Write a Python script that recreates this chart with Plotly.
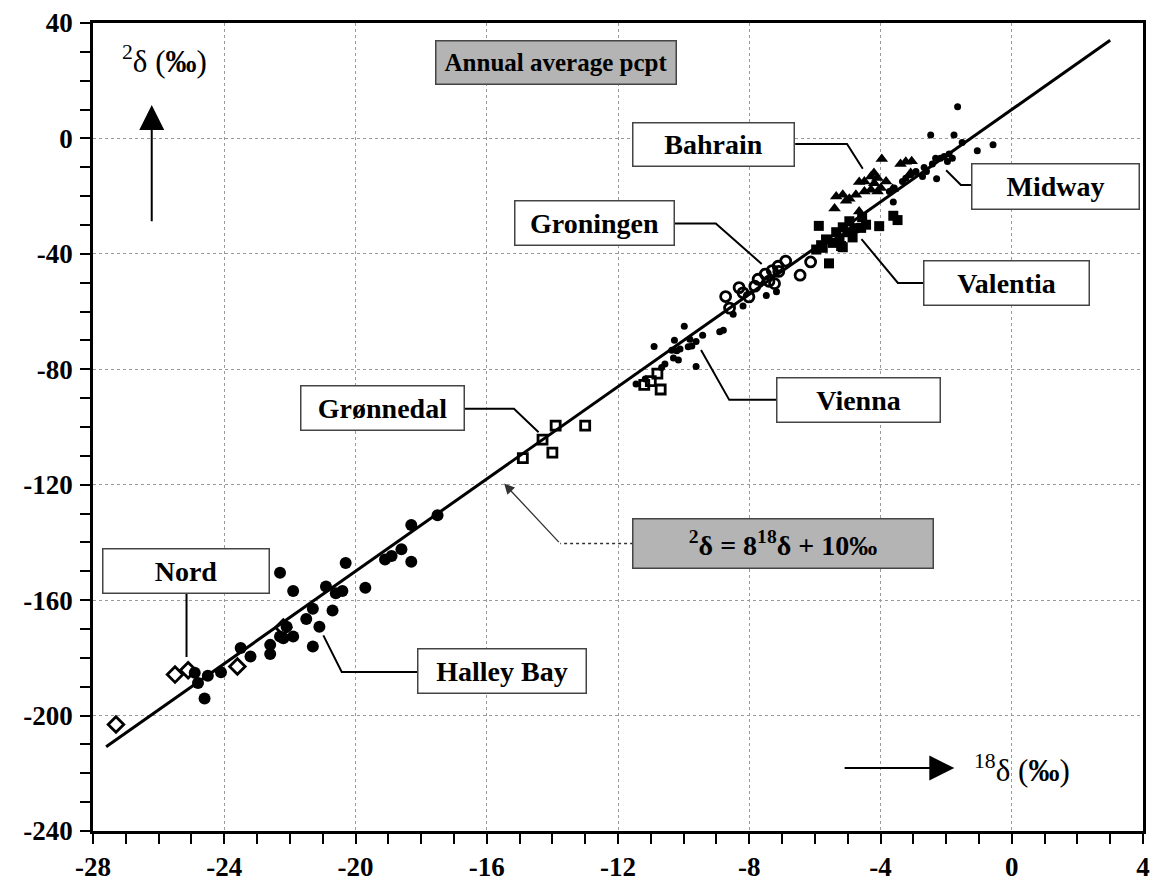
import plotly.graph_objects as go

# ---------------- data ----------------
halley_x = [-17.5, -18.3, -19.1, -18.9, -18.6, -18.3, -20.3, -22.3, -21.9, -20.9, -20.6, -20.4, -19.7,
            -21.3, -20.7, -21.5, -21.1, -22.1, -22.3, -21.9, -22.2, -21.3, -22.6, -22.6, -23.5, -23.2,
            -24.1, -24.5, -24.9, -24.8, -24.6]
halley_y = [-130.6, -134.0, -145.9, -144.7, -142.4, -146.7, -147.1, -150.5, -156.8, -155.3, -157.6, -156.8, -155.7,
            -163.0, -163.6, -166.5, -169.2, -169.2, -172.6, -172.6, -173.2, -176.1, -175.5, -178.7, -176.6, -179.5,
            -185.0, -186.2, -185.2, -188.7, -194.1]

nord_x = [-27.3, -25.5, -25.1, -23.6, -22.2]
nord_y = [-203.1, -185.8, -184.3, -183.0, -169.5]

gronnedal_x = [-14.3, -14.9, -13.9, -13.0, -14.0, -10.8, -11.0, -11.2, -10.7]
gronnedal_y = [-104.4, -110.8, -99.5, -99.5, -108.9, -81.5, -84.1, -85.4, -87.0]

vienna_x = [-11.45, -10.90, -10.28, -9.98, -10.36, -10.21, -10.11, -10.16, -10.31, -10.57, -10.67, -9.62,
            -9.81, -9.62, -9.42, -8.90, -8.79, -8.49, -8.19, -7.48, -7.17, -9.75, -11.17, -9.86]
vienna_y = [-85.1, -72.1, -69.9, -65.1, -73.4, -73.6, -73.0, -76.8, -76.1, -78.2, -79.4, -79.0,
            -69.6, -70.4, -68.2, -67.0, -66.5, -60.9, -58.1, -54.4, -53.1, -71.9, -83.4, -72.2]

groningen_x = [-8.72, -8.31, -8.60, -7.83, -7.73, -7.51, -7.30, -7.12, -6.89, -7.10, -7.23, -6.45,
               -6.13, -8.01, -8.19, -7.40]
groningen_y = [-54.8, -51.7, -58.8, -51.2, -48.8, -47.0, -45.8, -44.3, -42.5, -46.1, -50.3, -47.4,
               -42.8, -54.9, -53.5, -49.5]

valentia_x = [-5.88, -5.57, -4.04, -3.61, -3.48, -5.15, -4.85, -4.59, -4.56, -4.95, -5.15, -5.35,
              -5.66, -5.81, -5.96, -4.80, -5.01, -5.25, -5.45, -4.44, -5.20, -5.76]
valentia_y = [-30.3, -43.3, -30.4, -26.8, -28.3, -37.7, -34.3, -31.0, -27.3, -28.7, -30.8, -32.5,
              -35.0, -37.0, -38.5, -31.1, -32.5, -34.6, -36.2, -29.9, -37.3, -37.9]

bahrain_x = [-3.96, -3.39, -3.23, -3.05, -3.08, -4.20, -4.29, -4.09, -4.65, -4.49, -3.83, -4.19,
             -3.99, -4.29, -4.49, -4.75, -4.95, -5.35, -5.15, -5.40, -4.65, -3.63, -4.09, -5.05]
bahrain_y = [-7.1, -8.9, -8.1, -7.9, -12.0, -12.0, -13.2, -13.7, -15.1, -14.9, -14.9, -15.5,
             -17.2, -17.8, -18.4, -19.5, -20.9, -20.1, -19.5, -24.3, -25.3, -17.5, -18.4, -21.6]

midway_x = [-2.47, -1.76, -1.05, -0.57, -1.51, -1.91, -2.06, -2.17, -2.32, -2.42, -2.67, -2.72,
            -2.92, -3.08, -3.23, -3.33, -3.58, -3.73, -3.61, -2.29, -1.96, -1.81, -1.65, -2.60]
midway_y = [1.2, 1.2, -4.3, -2.2, -1.4, -5.4, -6.3, -6.9, -6.9, -8.9, -10.1, -13.2,
            -11.5, -12.6, -13.8, -14.9, -17.2, -18.4, -22.0, -14.0, -8.0, -6.9, 11.0, -11.5]

gmwl_x = [-27.6, 3.0]
gmwl_y = [-210.8, 34.0]

x_tick_vals = [-28, -24, -20, -16, -12, -8, -4, 0, 4]
x_tick_text = ["-28", "-24", "-20", "-16", "-12", "-8", "-4", "0", "4"]
y_tick_vals = [-240, -200, -160, -120, -80, -40, 0, 40]
y_tick_text = ["-240", "-200", "-160", "-120", "-80", "-40", "0", "40"]

# ---------------- figure ----------------
SERIF = "Liberation Serif"
fig = go.Figure()

fig.add_trace(go.Scatter(x=gmwl_x, y=gmwl_y, mode="lines",
                         line=dict(color="black", width=3), hoverinfo="skip"))

def add_pts(x, y, symbol, size, lw=0, name=""):
    fig.add_trace(go.Scatter(x=x, y=y, mode="markers", name=name,
                             marker=dict(symbol=symbol, size=size, color="black",
                                         line=dict(color="black", width=lw))))

add_pts(halley_x, halley_y, "circle", 12, name="Halley Bay")
add_pts(nord_x, nord_y, "diamond-open", 12, 2.8, name="Nord")
add_pts(gronnedal_x, gronnedal_y, "square-open", 9, 2.8, name="Grønnedal")
add_pts(vienna_x, vienna_y, "circle", 7, name="Vienna")
add_pts(groningen_x, groningen_y, "circle-open", 10, 2.8, name="Groningen")
add_pts(valentia_x, valentia_y, "square", 10, name="Valentia")
add_pts(bahrain_x, bahrain_y, "triangle-up", 11, name="Bahrain")
add_pts(midway_x, midway_y, "circle", 7, name="Midway")

# labelled boxes
boxes = [
    ("Bahrain", -9.08, -2.2, 158, 40, "white", 28),
    ("Midway", 1.34, -16.8, 164, 42, "white", 28),
    ("Groningen", -12.73, -29.4, 156, 41, "white", 28),
    ("Valentia", -0.15, -50.2, 162, 41, "white", 28),
    ("Vienna", -4.67, -90.7, 160, 41, "white", 28),
    ("Grønnedal", -19.19, -93.4, 160, 41, "white", 28),
    ("Nord", -25.18, -150.0, 163, 41, "white", 28),
    ("Halley Bay", -15.53, -184.6, 165, 41, "white", 28),
    ("Annual average pcpt", -13.89, 26.2, 237, 40, "#b4b4b4", 25),
    ("<sup>2</sup>δ = 8<sup>18</sup>δ + 10‰", -6.96, -140.2, 297, 46, "#b4b4b4", 28),
]
for txt, bx, by, w, h, bg, fs in boxes:
    fig.add_annotation(x=bx, y=by, xref="x", yref="y", text="<b>" + txt + "</b>",
                       showarrow=False, width=w, height=h, bgcolor=bg,
                       bordercolor="#444", borderwidth=1.5, borderpad=1,
                       font=dict(family=SERIF, size=fs, color="black"))

# leader lines
leaders = [
    [(-6.60, -1.9), (-5.02, -1.9), (-4.54, -10.5)],
    [(-1.21, -16.1), (-1.55, -16.1), (-2.00, -11.0)],
    [(-10.29, -29.5), (-9.02, -29.5), (-7.62, -43.5)],
    [(-2.68, -50.1), (-3.47, -50.1), (-4.58, -34.9)],
    [(-7.17, -90.6), (-8.61, -90.6), (-9.47, -73.3)],
    [(-16.69, -93.7), (-15.17, -93.7), (-14.42, -101.8)],
    [(-25.15, -157.8), (-25.15, -179.7)],
    [(-18.10, -184.9), (-20.42, -184.9), (-20.98, -172.2)],
]
for pts in leaders:
    path = "M " + " L ".join(f"{px},{py}" for px, py in pts)
    fig.add_shape(type="path", path=path, xref="x", yref="y",
                  line=dict(color="black", width=2))

# equation pointer (dashed)
fig.add_shape(type="line", x0=-11.54, y0=-140.4, x1=-13.76, y1=-140.4, xref="x", yref="y",
              line=dict(color="#333", width=1.5, dash="dot"))
fig.add_annotation(x=-15.47, y=-119.6, ax=-13.76, ay=-140.4, xref="x", yref="y",
                   axref="x", ayref="y", text="", showarrow=True, arrowhead=2,
                   arrowsize=1.6, arrowwidth=1.3, arrowcolor="#333")

# axis arrows + labels
fig.add_annotation(x=-26.21, y=11.6, ax=-26.21, ay=-29.2, xref="x", yref="y",
                   axref="x", ayref="y", text="", showarrow=True, arrowhead=2,
                   arrowsize=2.5, arrowwidth=2, arrowcolor="black")
fig.add_annotation(x=-1.75, y=-218.2, ax=-5.14, ay=-218.2, xref="x", yref="y",
                   axref="x", ayref="y", text="", showarrow=True, arrowhead=2,
                   arrowsize=2.5, arrowwidth=2, arrowcolor="black")
fig.add_annotation(x=-25.82, y=27.5, xref="x", yref="y", showarrow=False,
                   text="<sup>2</sup>δ (<b>‰</b>)", font=dict(family=SERIF, size=31, color="black"))
fig.add_annotation(x=0.31, y=-218.2, xref="x", yref="y", showarrow=False,
                   text="<sup>18</sup>δ (<b>‰</b>)", font=dict(family=SERIF, size=31, color="black"))

axis_common = dict(showline=True, linecolor="black", linewidth=2.5, mirror=True,
                   ticks="outside", ticklen=10, tickwidth=2, tickcolor="black",
                   showgrid=True, gridcolor="#9a9a9a", griddash="dot", gridwidth=1,
                   zeroline=False,
                   tickfont=dict(family=SERIF, size=27, color="black", weight="bold"))

fig.update_xaxes(range=[-28, 4], tickmode="array", tickvals=x_tick_vals, ticktext=x_tick_text,
                 minor=dict(tickmode="linear", tick0=-28, dtick=1, ticks="outside", ticklen=10,
                            tickwidth=2, tickcolor="black", showgrid=False),
                 **axis_common)
fig.update_yaxes(range=[-240, 40], tickmode="array", tickvals=y_tick_vals, ticktext=y_tick_text,
                 minor=dict(tickmode="linear", tick0=-240, dtick=10, ticks="outside", ticklen=10,
                            tickwidth=2, tickcolor="black", showgrid=False),
                 ticklabelstandoff=2, **axis_common)

fig.update_layout(width=1158, height=894, showlegend=False,
                  margin=dict(l=93, r=8, t=22, b=63),
                  plot_bgcolor="white", paper_bgcolor="white")

fig.write_html("out.html")
